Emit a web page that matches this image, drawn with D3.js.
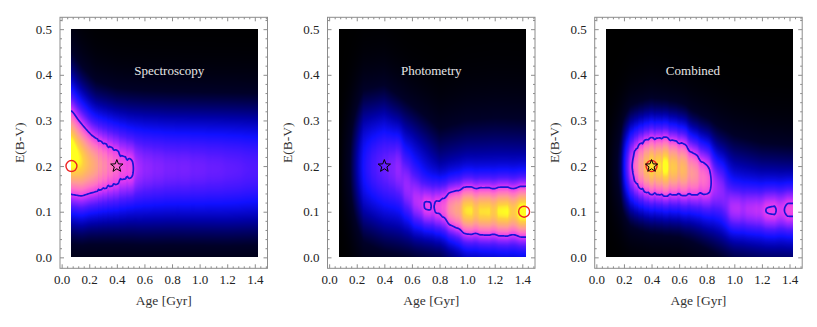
<!DOCTYPE html>
<html>
<head>
<meta charset="utf-8">
<script src="https://cdn.jsdelivr.net/npm/d3@7"></script>
<style>
  body { margin: 0; background: #fff; }
  text { font-family: "Liberation Serif", "DejaVu Serif", serif; }
</style>
</head>
<body>
<script>
// ---------- data ----------
// model age grid (Gyr), one column of the posterior per age
const ageGrid = [0.071, 0.079, 0.089, 0.100, 0.112, 0.126, 0.141, 0.158, 0.178, 0.200,
                 0.224, 0.251, 0.282, 0.316, 0.355, 0.398, 0.447, 0.501, 0.562, 0.631,
                 0.708, 0.794, 0.891, 1.000, 1.122, 1.259, 1.413];
// ages where the smooth background ("halo") is read
const haloAges = [0.071, 0.15, 0.25, 0.4, 0.6, 0.8, 1.0, 1.2, 1.413];

// Spectroscopy
const specCoreW  = [0.66, 0.65, 0.63, 0.61, 0.59, 0.57, 0.55, 0.52, 0.49, 0.46,
                    0.43, 0.40, 0.36, 0.33, 0.29, 0.26, 0.21, 0.21, 0.10, 0.08,
                    0.07, 0.06, 0.06, 0.05, 0.04, 0.03, 0.02];
const specCoreMu = [0.225, 0.223, 0.220, 0.217, 0.214, 0.211, 0.208, 0.206, 0.204, 0.202,
                    0.200, 0.200, 0.199, 0.198, 0.197, 0.196, 0.195, 0.193, 0.193, 0.193,
                    0.193, 0.193, 0.193, 0.193, 0.193, 0.193, 0.193];
const specCoreSd = [0.072, 0.071, 0.070, 0.069, 0.068, 0.067, 0.066, 0.064, 0.062, 0.059,
                    0.057, 0.056, 0.055, 0.054, 0.053, 0.052, 0.050, 0.045, 0.050, 0.050,
                    0.050, 0.050, 0.050, 0.050, 0.050, 0.050, 0.050];
const specHaloW  = [0.42, 0.43, 0.43, 0.43, 0.42, 0.41, 0.41, 0.41, 0.40];
const specHaloMu = [0.245, 0.225, 0.208, 0.200, 0.196, 0.195, 0.194, 0.193, 0.193];
const specHaloSd = [0.120, 0.112, 0.104, 0.100, 0.100, 0.100, 0.100, 0.100, 0.100];

// Photometry
const photCoreW  = [0, 0, 0, 0, 0, 0, 0, 0, 0, 0,
                    0, 0, 0.02, 0.04, 0.05, 0.05, 0.08, 0.13, 0.15, 0.22,
                    0.32, 0.36, 0.50, 0.66, 0.64, 0.66, 0.70];
const photCoreMu = [0.2, 0.2, 0.2, 0.2, 0.2, 0.2, 0.2, 0.2, 0.2, 0.2,
                    0.2, 0.2, 0.2, 0.2, 0.2, 0.2, 0.2, 0.2, 0.150, 0.120,
                    0.110, 0.108, 0.105, 0.102, 0.100, 0.100, 0.100];
const photCoreSd = [0.05, 0.05, 0.05, 0.05, 0.05, 0.05, 0.05, 0.05, 0.05, 0.05,
                    0.05, 0.05, 0.05, 0.05, 0.05, 0.05, 0.05, 0.05, 0.045, 0.040,
                    0.035, 0.038, 0.040, 0.042, 0.042, 0.042, 0.042];
const photHaloW  = [0.00, 0.10, 0.33, 0.40, 0.36, 0.26, 0.32, 0.33, 0.34];
const photHaloMu = [0.200, 0.200, 0.200, 0.195, 0.165, 0.130, 0.110, 0.105, 0.100];
const photHaloSd = [0.085, 0.100, 0.108, 0.110, 0.105, 0.110, 0.125, 0.130, 0.130];

// Combined
const combCoreW  = [0, 0, 0, 0, 0, 0, 0, 0, 0, 0.12,
                    0.20, 0.30, 0.40, 0.50, 0.58, 0.64, 0.62, 0.68, 0.58, 0.55,
                    0.45, 0.36, 0.18, 0.24, 0.24, 0.31, 0.33];
const combCoreMu = [0.2, 0.2, 0.2, 0.2, 0.2, 0.2, 0.2, 0.2, 0.2, 0.2,
                    0.2, 0.2, 0.2, 0.2, 0.2, 0.2, 0.2, 0.2, 0.198, 0.195,
                    0.185, 0.175, 0.150, 0.105, 0.103, 0.102, 0.104];
const combCoreSd = [0.055, 0.055, 0.055, 0.055, 0.055, 0.055, 0.055, 0.055, 0.055, 0.055,
                    0.055, 0.055, 0.055, 0.055, 0.055, 0.055, 0.055, 0.055, 0.055, 0.055,
                    0.050, 0.050, 0.045, 0.035, 0.035, 0.035, 0.035];
const combHaloW  = [0.00, 0.10, 0.28, 0.34, 0.35, 0.34, 0.31, 0.30, 0.30];
const combHaloMu = [0.200, 0.200, 0.200, 0.200, 0.190, 0.160, 0.125, 0.110, 0.105];
const combHaloSd = [0.075, 0.080, 0.086, 0.090, 0.088, 0.090, 0.095, 0.095, 0.095];

// best fit (circle) per panel and the reference point (star)
const bestFit = [[0.071, 0.2], [1.413, 0.1], [0.4, 0.2]];
const refPoint = [0.4, 0.2];

const titles = ["Spectroscopy", "Photometry", "Combined"];
const xTicks = [0, 0.2, 0.4, 0.6, 0.8, 1.0, 1.2, 1.4];
const yTicks = [0, 0.1, 0.2, 0.3, 0.4, 0.5];

// ---------- chart ----------
const W = 817, H = 327;
const svg = d3.select("body").append("svg").attr("width", W).attr("height", H);

const panels = [
  { left: 60.0,  titleAge: 0.78, core: [specCoreW, specCoreMu, specCoreSd], halo: [specHaloW, specHaloMu, specHaloSd] },
  { left: 327.5, titleAge: 0.74, core: [photCoreW, photCoreMu, photCoreSd], halo: [photHaloW, photHaloMu, photHaloSd] },
  { left: 594.7, titleAge: 0.70, core: [combCoreW, combCoreMu, combCoreSd], halo: [combHaloW, combHaloMu, combHaloSd] }
];

const color = d3.scaleLinear()
  .domain([0, 0.10, 0.22, 0.32, 0.42, 0.52, 0.60, 0.70, 0.80, 0.88, 0.95, 1.0])
  .range(["#000000", "#000028", "#0000a8", "#1010ff", "#5018ff", "#a028ff",
          "#e83cf0", "#ff70c8", "#ff9a98", "#ffb468", "#ffd040", "#ffff20"])
  .interpolate(d3.interpolateRgb)
  .clamp(true);

const contourLevel = 0.6;
const frameW = 207.5;

// kernel weights of the age columns at age a
function columnWeights(a) {
  const n = ageGrid.length;
  const k = ageGrid.map((c, i) => {
    const dn = i < n - 1 ? ageGrid[i + 1] - c : c - ageGrid[i - 1];
    const dp = i > 0 ? c - ageGrid[i - 1] : dn;
    const h = Math.max(0.40 * (dn + dp) / 2, 0.012);
    return Math.exp(-0.5 * ((a - c) / h) ** 2);
  });
  const s = d3.sum(k);
  return { k: k.map(v => v / s), dip: Math.min(1, s) };
}

panels.forEach((p, pi) => {
  const g = svg.append("g");
  const x = d3.scaleLinear().domain([-0.012, 1.492]).range([p.left, p.left + frameW]);
  const y = d3.scaleLinear().domain([-0.024, 0.526]).range([268.3, 17.3]);

  const hW = d3.scaleLinear().domain(haloAges).range(p.halo[0]).clamp(true);
  const hMu = d3.scaleLinear().domain(haloAges).range(p.halo[1]).clamp(true);
  const hSd = d3.scaleLinear().domain(haloAges).range(p.halo[2]).clamp(true);
  const [cW, cMu, cSd] = p.core;

  // heat map area
  const hx0 = Math.round(x(ageGrid[0])), hx1 = Math.round(x(1.425));
  const hy0 = Math.round(y(0.5)), hy1 = Math.round(y(0));
  const nw = hx1 - hx0, nh = hy1 - hy0, pad = 3;
  const gw = nw + 2 * pad, gh = nh + 2 * pad;
  const grid = new Float64Array(gw * gh);

  for (let gi = 0; gi < gw; gi++) {
    const ix = Math.min(nw - 1, Math.max(0, gi - pad));
    const a = x.invert(hx0 + ix + 0.5);
    const { k, dip } = columnWeights(a);
    const hw = hW(a), hm = hMu(a), hs = hSd(a);
    for (let gj = 0; gj < gh; gj++) {
      const iy = Math.min(nh - 1, Math.max(0, gj - pad));
      const e = y.invert(hy0 + iy + 0.5);
      let core = 0;
      for (let i = 0; i < k.length; i++) {
        if (k[i] < 1e-5 || cW[i] === 0) continue;
        core += k[i] * cW[i] * Math.exp(-0.5 * ((e - cMu[i]) / cSd[i]) ** 2);
      }
      grid[gj * gw + gi] = hw * Math.exp(-0.5 * ((e - hm) / hs) ** 2) + dip * core;
    }
  }

  const canvas = document.createElement("canvas");
  canvas.width = nw; canvas.height = nh;
  const ctx = canvas.getContext("2d");
  const img = ctx.createImageData(nw, nh);
  for (let j = 0; j < nh; j++) {
    for (let i = 0; i < nw; i++) {
      const c = d3.rgb(color(grid[(j + pad) * gw + i + pad]));
      const o = (j * nw + i) * 4;
      img.data[o] = c.r; img.data[o + 1] = c.g; img.data[o + 2] = c.b; img.data[o + 3] = 255;
    }
  }
  ctx.putImageData(img, 0, 0);
  g.append("image")
    .attr("x", hx0).attr("y", hy0).attr("width", nw).attr("height", nh)
    .attr("preserveAspectRatio", "none")
    .attr("href", canvas.toDataURL());

  // contour
  const clipId = "clip" + pi;
  g.append("clipPath").attr("id", clipId)
    .append("rect").attr("x", hx0).attr("y", hy0).attr("width", nw).attr("height", nh);
  const cont = d3.contours().size([gw, gh]).thresholds([contourLevel])(Array.from(grid));
  g.append("g").attr("clip-path", `url(#${clipId})`)
    .append("path")
    .attr("transform", `translate(${hx0 - pad},${hy0 - pad})`)
    .attr("d", d3.geoPath()(cont[0]))
    .attr("fill", "none")
    .attr("stroke", "#1616d6")
    .attr("stroke-width", 1.7)
    .attr("stroke-linejoin", "round");

  // title
  g.append("text")
    .attr("x", x(p.titleAge)).attr("y", y(0.4))
    .attr("text-anchor", "middle")
    .attr("font-size", 13)
    .attr("fill", "#e6e6e6")
    .text(titles[pi]);

  // markers
  g.append("circle")
    .attr("cx", x(bestFit[pi][0])).attr("cy", y(bestFit[pi][1])).attr("r", 5.5)
    .attr("fill", "none").attr("stroke", "#ee2222").attr("stroke-width", 1.4);
  const star = d3.range(10).map(i => {
    const r = i % 2 === 0 ? 6.5 : 2.7;
    const t = -Math.PI / 2 + i * Math.PI / 5;
    return [r * Math.cos(t), r * Math.sin(t)];
  });
  g.append("path")
    .attr("transform", `translate(${x(refPoint[0])},${y(refPoint[1])})`)
    .attr("d", d3.line()(star) + "Z")
    .attr("fill", "none").attr("stroke", "#000").attr("stroke-width", 1);

  // frame
  g.append("rect")
    .attr("x", x.range()[0]).attr("y", y.range()[1])
    .attr("width", frameW).attr("height", y.range()[0] - y.range()[1])
    .attr("fill", "none").attr("stroke", "#8c8c8c");

  const xMinor = d3.range(0, 1.49, 0.04).filter(v => Math.abs(v / 0.2 - Math.round(v / 0.2)) > 1e-6);
  const yMinor = d3.range(0, 0.521, 0.02).filter(v => Math.abs(v / 0.1 - Math.round(v / 0.1)) > 1e-6);
  const fmt = d3.format(".1f");
  const styleAxis = sel => {
    sel.attr("font-family", null);
    sel.select(".domain").remove();
    sel.selectAll("line").attr("stroke", "#8c8c8c");
    sel.selectAll("text").attr("font-size", 13).attr("fill", "#222");
  };
  const yb = y.range()[0], yt = y.range()[1], xl = x.range()[0], xr = x.range()[1];

  g.append("g").attr("transform", `translate(0,${yb})`)
    .call(d3.axisBottom(x).tickValues(xTicks).tickSize(-4).tickPadding(6).tickFormat(fmt)).call(styleAxis);
  g.append("g").attr("transform", `translate(0,${yb})`)
    .call(d3.axisBottom(x).tickValues(xMinor).tickSize(-2).tickFormat("")).call(styleAxis);
  g.append("g").attr("transform", `translate(0,${yt})`)
    .call(d3.axisTop(x).tickValues(xTicks).tickSize(-4).tickFormat("")).call(styleAxis);
  g.append("g").attr("transform", `translate(0,${yt})`)
    .call(d3.axisTop(x).tickValues(xMinor).tickSize(-2).tickFormat("")).call(styleAxis);

  g.append("g").attr("transform", `translate(${xl},0)`)
    .call(d3.axisLeft(y).tickValues(yTicks).tickSize(-4).tickPadding(8).tickFormat(fmt)).call(styleAxis);
  g.append("g").attr("transform", `translate(${xl},0)`)
    .call(d3.axisLeft(y).tickValues(yMinor).tickSize(-2).tickFormat("")).call(styleAxis);
  g.append("g").attr("transform", `translate(${xr},0)`)
    .call(d3.axisRight(y).tickValues(yTicks).tickSize(-4).tickFormat("")).call(styleAxis);
  g.append("g").attr("transform", `translate(${xr},0)`)
    .call(d3.axisRight(y).tickValues(yMinor).tickSize(-2).tickFormat("")).call(styleAxis);

  // axis labels
  g.append("text")
    .attr("x", (xl + xr) / 2).attr("y", 305)
    .attr("text-anchor", "middle").attr("font-size", 13.5).attr("fill", "#333")
    .text("Age [Gyr]");
  g.append("text")
    .attr("transform", `translate(${xl - 36},${(yt + yb) / 2}) rotate(-90)`)
    .attr("text-anchor", "middle").attr("font-size", 13.5).attr("fill", "#333")
    .text("E(B-V)");
});
</script>
</body>
</html>
